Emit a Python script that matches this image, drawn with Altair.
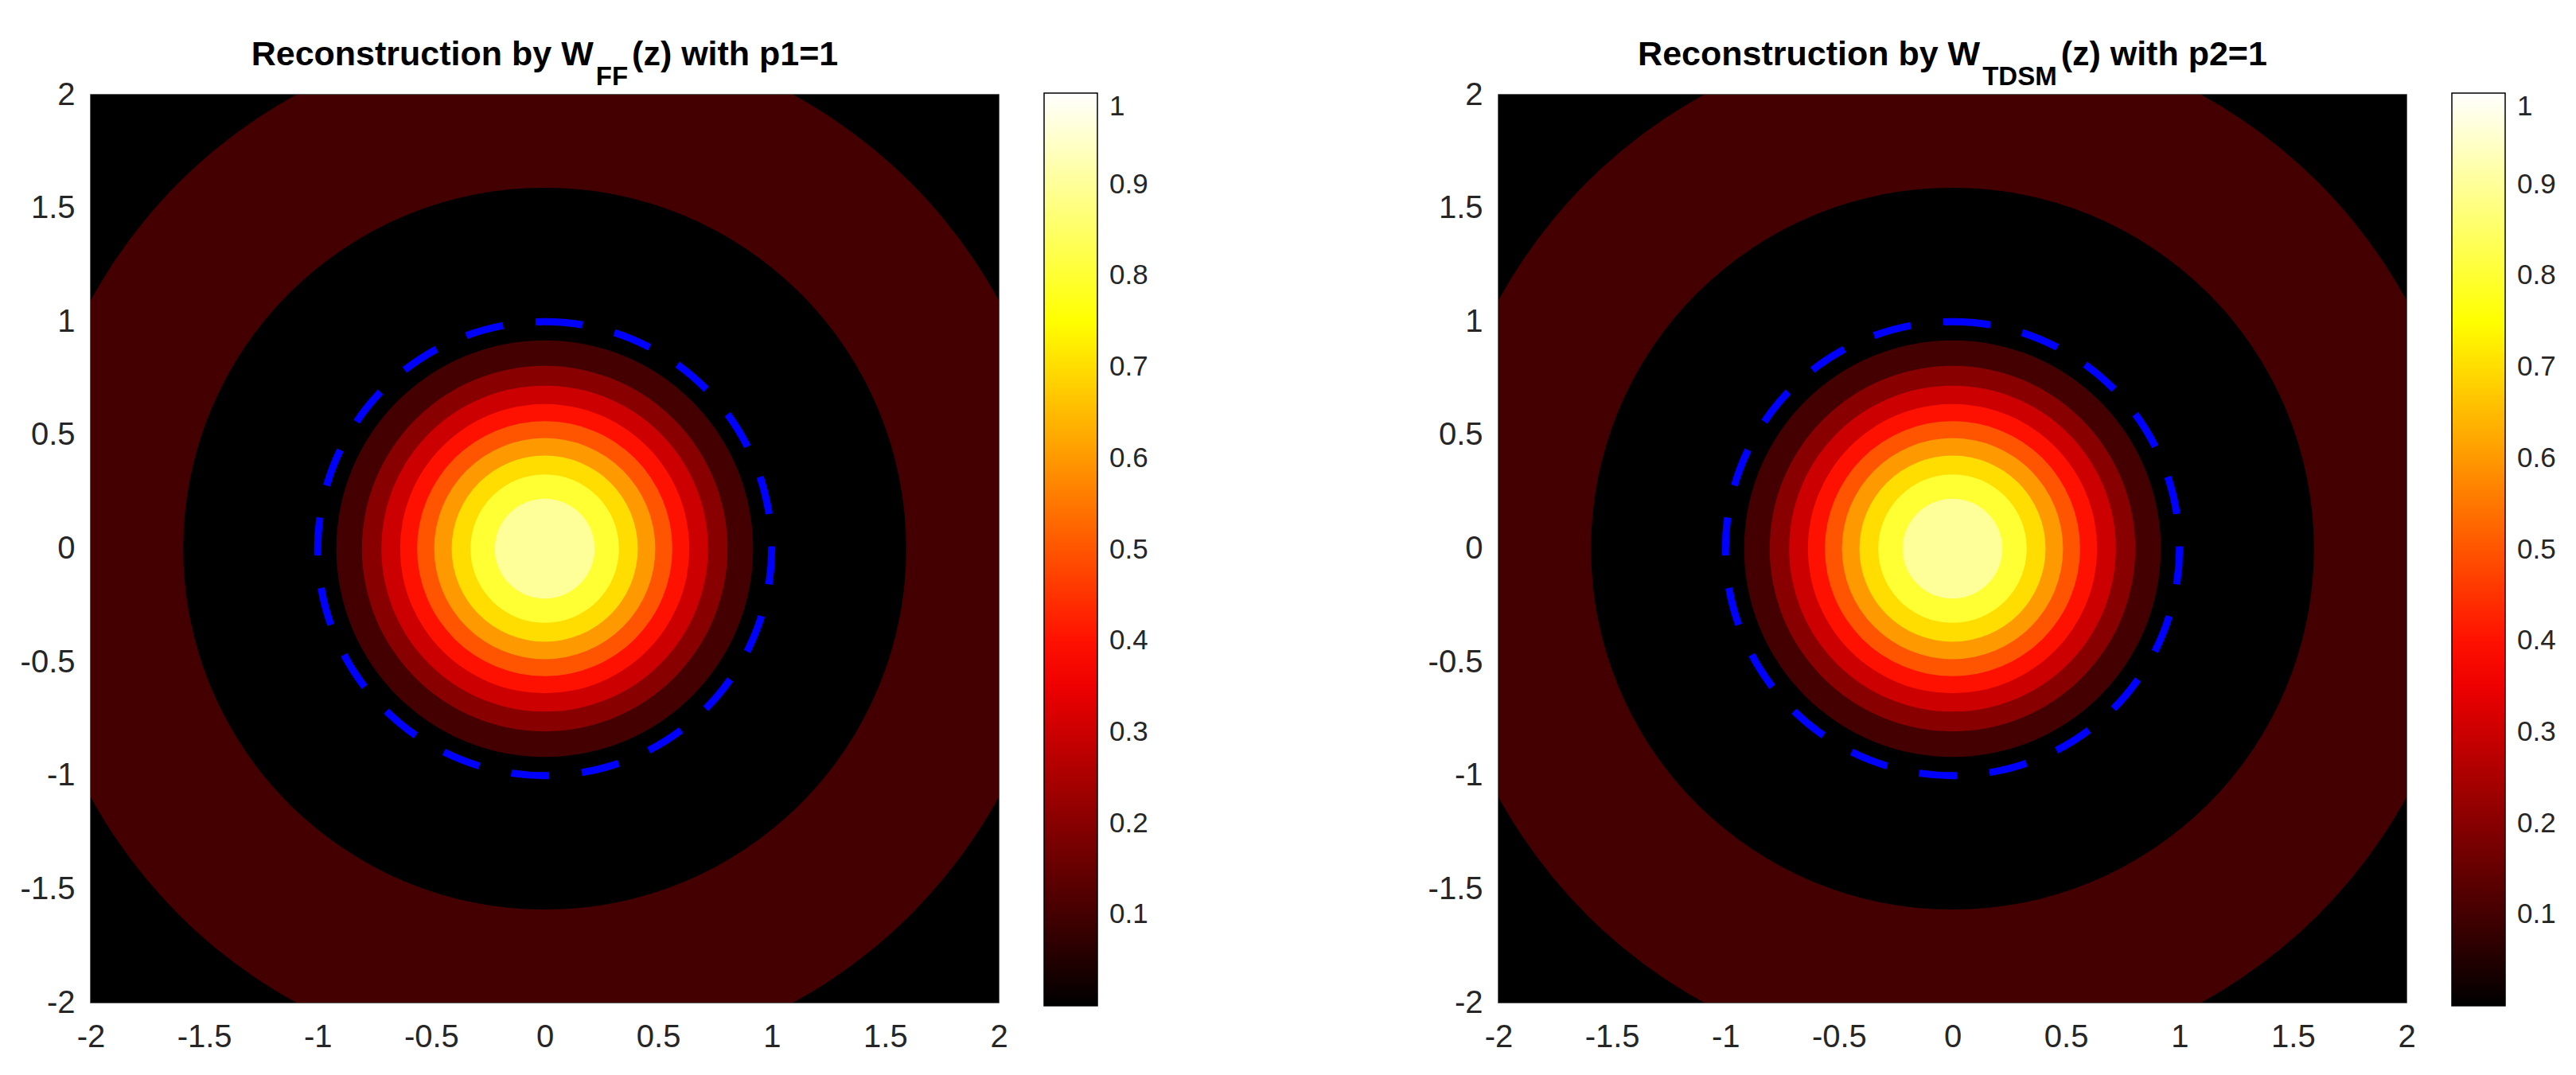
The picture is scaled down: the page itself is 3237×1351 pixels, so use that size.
import math
import altair as alt
import pandas as pd

# ---------------- data ----------------
x_ticks = [-2, -1.5, -1, -0.5, 0, 0.5, 1, 1.5, 2]
y_ticks = [-2, -1.5, -1, -0.5, 0, 0.5, 1, 1.5, 2]
cbar_ticks = [0.1, 0.2, 0.3, 0.4, 0.5, 0.6, 0.7, 0.8, 0.9, 1.0]

# filled-contour bands: outer radius of each disc and the contour level that fills it
left_radius = [2.90, 2.28, 1.59, 0.918, 0.805, 0.718, 0.637, 0.562, 0.487, 0.410, 0.327, 0.220]
left_level = [0.0, 0.1, 0.0, 0.1, 0.2, 0.3, 0.4, 0.5, 0.6, 0.7, 0.8, 0.9]
right_radius = [2.90, 2.28, 1.59, 0.918, 0.805, 0.718, 0.637, 0.562, 0.487, 0.410, 0.327, 0.220]
right_level = [0.0, 0.1, 0.0, 0.1, 0.2, 0.3, 0.4, 0.5, 0.6, 0.7, 0.8, 0.9]

circle_radius = [1.0]
center_x = [0.0]
center_y = [0.0]

left_title = ["Reconstruction by W", "FF", "(z) with p1=1"]
right_title = ["Reconstruction by W", "TDSM", "(z) with p2=1"]

# MATLAB "hot" colormap stops
hot_domain = [0.0, 0.375, 0.75, 1.0]
hot_colors = ["#000000", "#ff0000", "#ffff00", "#ffffff"]

# ---------------- layout ----------------
PW = 1141
PH = 1141
FONT = "Liberation Sans"
MAIN_SIZE = 43
SUB_SIZE = 33

BOLD_W = {"R": 722, "e": 556, "c": 556, "o": 611, "n": 611, "s": 556, "t": 333, "r": 389,
          "u": 611, "i": 278, "b": 611, "y": 556, " ": 278, "W": 944, "F": 611, "T": 611,
          "D": 722, "S": 667, "M": 833, "(": 333, ")": 333, "z": 500, "w": 778, "h": 611,
          "p": 611, "1": 556, "2": 556, "=": 584}


def text_width(s, size):
    return sum(BOLD_W.get(ch, 600) for ch in s) / 1000.0 * size


def panel(radius, level, title):
    rings = pd.DataFrame({"r": radius, "level": level,
                          "cx": center_x * len(radius), "cy": center_y * len(radius)})
    rings = rings.sort_values("r", ascending=False).reset_index(drop=True)
    circ = pd.DataFrame({"r": circle_radius, "cx": center_x, "cy": center_y})

    axis_common = dict(labelExpr="datum.value + ''", labelFont=FONT, labelFontSize=40,
                       labelColor="#262626", ticks=False, grid=False, domain=False,
                       labelFlush=False, labelOverlap=False)
    xenc = alt.X("cx:Q", scale=alt.Scale(domain=[-2, 2], nice=False, zero=False),
                 axis=alt.Axis(values=x_ticks, labelPadding=23, **axis_common), title=None)
    yenc = alt.Y("cy:Q", scale=alt.Scale(domain=[-2, 2], nice=False, zero=False),
                 axis=alt.Axis(values=y_ticks, labelPadding=20, **axis_common), title=None)
    rscale = alt.Scale(type="linear", domain=[0, 2], range=[0, PW / 2], zero=True)

    legend = alt.Legend(orient="none", legendX=PW + 57, legendY=-2,
                        direction="vertical", gradientLength=1147, gradientThickness=67,
                        gradientStrokeColor="#000000", gradientStrokeWidth=1.5,
                        values=cbar_ticks, format=".1~f", labelFont=FONT, labelFontSize=35,
                        labelColor="#262626", labelOffset=15, labelOverlap=False,
                        labelBaseline="middle")

    ring_layer = alt.Chart(rings).mark_arc(theta=0, theta2=2 * math.pi, clip=True).encode(
        x=xenc, y=yenc,
        radius=alt.Radius("r:Q", scale=rscale, stack=None),
        color=alt.Color("level:Q", title=None, legend=legend,
                        scale=alt.Scale(domain=hot_domain, range=hot_colors, interpolate="rgb")),
    )

    circle_layer = alt.Chart(circ).mark_arc(theta=0, theta2=2 * math.pi, filled=False,
                                            stroke="#0000ff", strokeWidth=9,
                                            strokeDash=[48, 41]).encode(
        x=xenc, y=yenc, radius=alt.Radius("r:Q", scale=rscale, stack=None))

    w_main = text_width(title[0], MAIN_SIZE)
    w_sub = text_width(title[1], SUB_SIZE)
    w_rest = text_width(title[2], MAIN_SIZE)
    start = PW / 2 - (w_main + w_sub + w_rest + 8) / 2

    def piece(txt, px, py, size):
        return alt.Chart(pd.DataFrame({"t": [txt]})).mark_text(
            font=FONT, fontSize=size, fontWeight="bold", align="left",
            baseline="alphabetic", color="#000000").encode(
            text="t:N", x=alt.value(px), y=alt.value(py))

    t1 = piece(title[0], start, -37, MAIN_SIZE)
    t2 = piece(title[1], start + w_main + 3, -12, SUB_SIZE)
    t3 = piece(title[2], start + w_main + w_sub + 8, -37, MAIN_SIZE)

    return alt.layer(ring_layer, circle_layer, t1, t2, t3).properties(width=PW, height=PH)


left = panel(left_radius, left_level, left_title)
right = panel(right_radius, right_level, right_title)

chart = alt.hconcat(left, right, spacing=628, bounds="flush").resolve_scale(
    color="independent").resolve_legend(color="independent").properties(
    padding={"left": 16, "top": 39, "right": 5, "bottom": 5},
    background="#ffffff",
).configure_view(fill="#000000", stroke="#262626", strokeWidth=1.5)

chart.save("out.html", embed_options={"renderer": "svg", "actions": False})
